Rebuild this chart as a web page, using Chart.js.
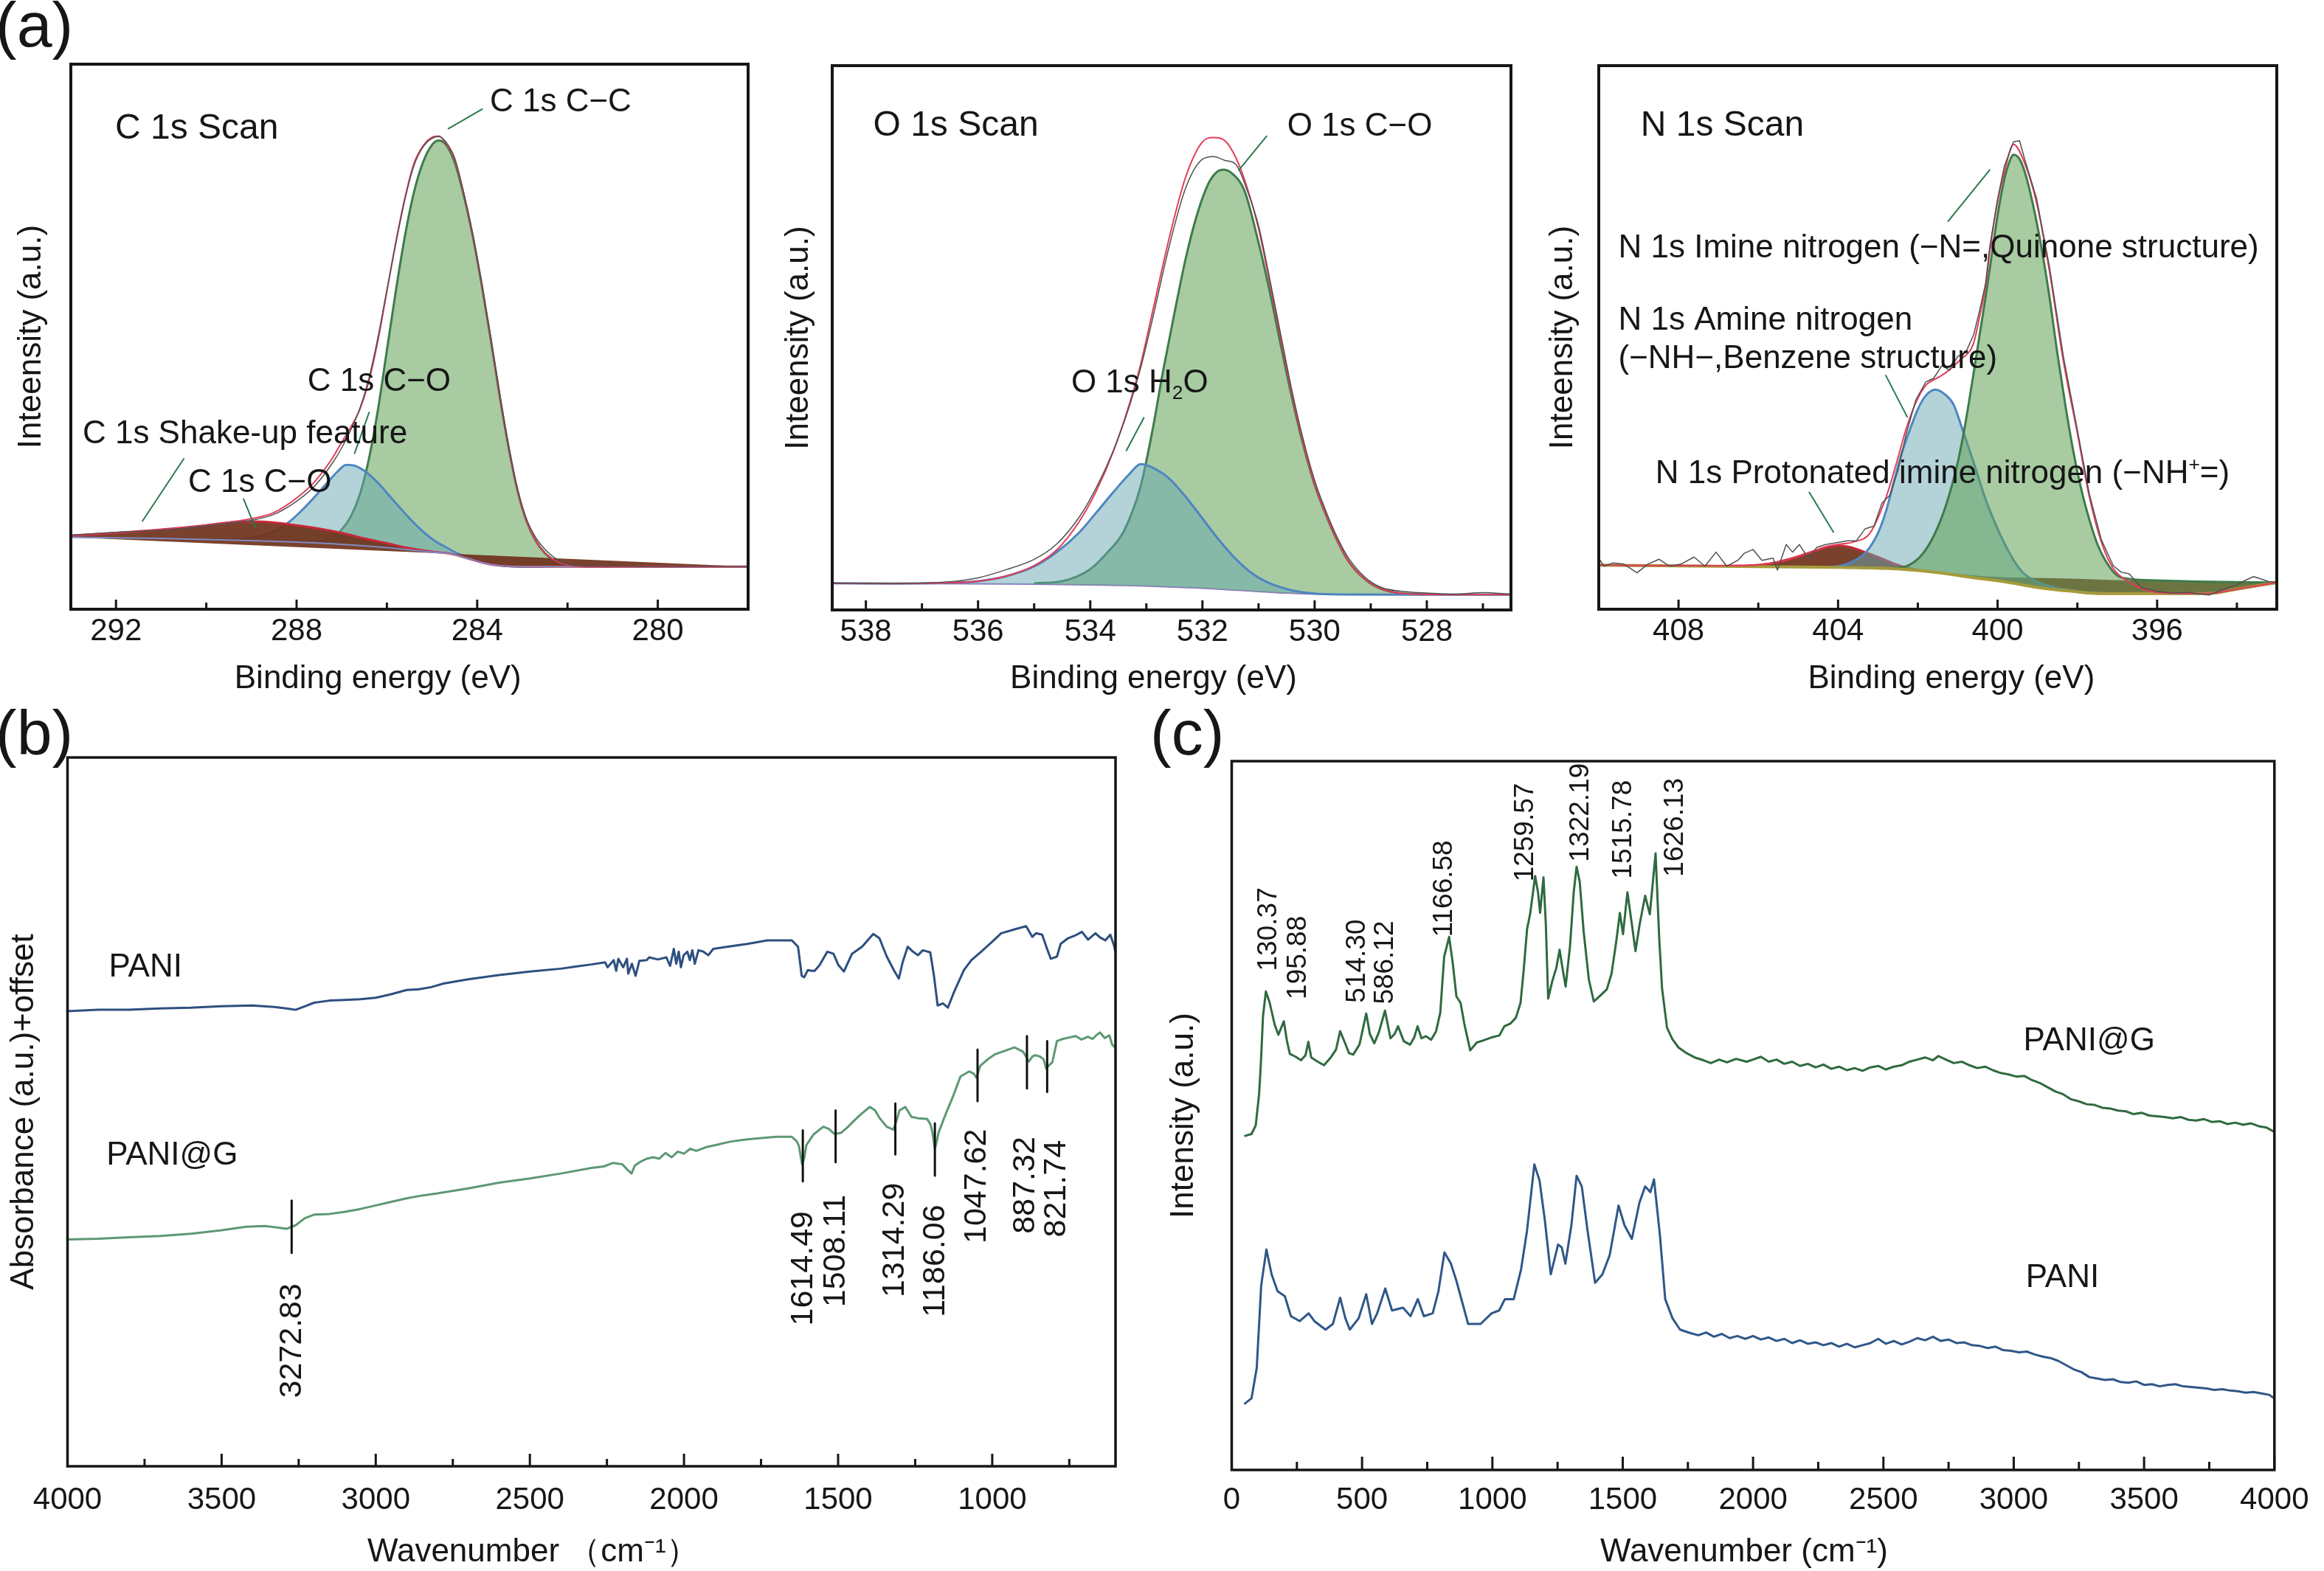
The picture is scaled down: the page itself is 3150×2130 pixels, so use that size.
<!DOCTYPE html>
<html>
<head>
<meta charset="utf-8">
<title>XPS, FTIR and Raman spectra of PANI and PANI@G</title>
<script src="https://cdn.jsdelivr.net/npm/chart.js@4.4.1/dist/chart.umd.min.js"></script>
<style>
  html, body { margin: 0; padding: 0; background: #ffffff; }
  #page { position: relative; width: 3150px; height: 2130px; background: #ffffff; overflow: hidden; }
  #page canvas { position: absolute; }
  .plabel { position: absolute; font-family: 'Liberation Sans', Arial, sans-serif; font-size: 86px; line-height: 1; color: #161616; }
</style>
</head>
<body>
<div id="page">
  <canvas id="a1" width="1050" height="900" style="left:0px;top:60px;width:1050px;height:900px"></canvas>
  <canvas id="a2" width="1030" height="900" style="left:1055px;top:60px;width:1030px;height:900px"></canvas>
  <canvas id="a3" width="1060" height="900" style="left:2090px;top:60px;width:1060px;height:900px"></canvas>
  <canvas id="b" width="1560" height="1130" style="left:0px;top:1000px;width:1560px;height:1130px"></canvas>
  <canvas id="c" width="1585" height="1130" style="left:1565px;top:1000px;width:1585px;height:1130px"></canvas>
  <div class="plabel" style="left:-6px;top:-10px">(a)</div>
  <div class="plabel" style="left:-6px;top:950px">(b)</div>
  <div class="plabel" style="left:1559px;top:950px">(c)</div>
</div>
<script>
const FONT = "'Liberation Sans', Arial, Helvetica, sans-serif";
const INK = '#161616';

/* ================= (a) XPS : C 1s ================= */
const c1sTicks = [292, 290, 288, 286, 284, 282, 280];
const c1sEnergy = [293, 292, 291, 290, 289.5, 289, 288.5, 288, 287.6, 287.2, 287.0, 286.8, 286.6, 286.4, 286.2, 286.0, 285.8, 285.6, 285.4, 285.2, 285.0, 284.85, 284.7, 284.5, 284.3, 284.1, 283.9, 283.7, 283.5, 283.3, 283.1, 282.9, 282.7, 282.5, 282.2, 281.8, 281, 280, 279, 278];
const c1sRaw = [13.6, 14.1, 14.5, 15.3, 15.8, 16.3, 17.4, 19.8, 22.6, 26.9, 29.6, 32.9, 36.8, 42.3, 49.8, 58.6, 67.2, 75.2, 81.4, 84.8, 86.4, 86.7, 85.8, 82.8, 76.5, 68.9, 59.8, 49.9, 39.5, 29.8, 21.9, 16.4, 13.1, 11.0, 9.0, 8.0, 7.9, 7.8, 7.85, 7.8];
const c1sEnvelope = [13.5, 14.0, 14.6, 15.4, 15.95, 16.6, 17.75, 20.4, 23.4, 27.8, 30.65, 33.4, 36.65, 41.8, 49.2, 58.3, 67.45, 75.5, 81.8, 85.0, 86.6, 86.8, 85.6, 82.5, 76.2, 68.5, 59.5, 49.5, 39.0, 29.5, 21.5, 16.0, 12.5, 10.3, 8.6, 7.9, 7.8, 7.8, 7.8, 7.8];
const c1sBgEnergy = [293, 291, 289, 288, 287, 286, 285.5, 285, 284.6, 284.2, 283.8, 283.5, 283, 278];
const c1sBackground = [13.2, 13.0, 12.6, 12.3, 11.9, 11.3, 10.9, 10.5, 10.2, 9.3, 8.4, 8.0, 7.8, 7.8];
const c1sLinEnergy = [293, 278];
const c1sLinear = [13.2, 7.8];
const c1sShakeEnergy = [293, 292, 291, 290, 289.5, 289, 288.5, 288, 287.5, 287, 286.5, 286, 285.5, 285, 284.6, 284.2, 283.8, 283.5, 283, 278];
const c1sShake = [13.5, 14.0, 14.6, 15.4, 15.9, 16.1, 15.9, 15.4, 14.8, 14.0, 13.0, 12.1, 11.2, 10.55, 10.2, 9.3, 8.4, 8.0, 7.8, 7.8];
const c1sCOEnergy = [290, 289.5, 289, 288.5, 288.2, 287.9, 287.6, 287.3, 287.1, 286.9, 286.7, 286.5, 286.2, 285.9, 285.6, 285.3, 285.0, 284.7, 284.4, 284.0, 283.6, 283.2, 282.5];
const c1sCO = [12.8, 12.75, 13.1, 14.3, 15.8, 18.0, 20.6, 23.4, 25.2, 26.5, 26.3, 25.4, 23.2, 20.4, 17.6, 15.0, 12.9, 11.4, 10.1, 8.9, 8.15, 7.85, 7.8];
const c1sCCEnergy = [287.6, 287.2, 287.0, 286.8, 286.6, 286.4, 286.2, 286.0, 285.8, 285.6, 285.4, 285.2, 285.0, 284.85, 284.7, 284.5, 284.3, 284.1, 283.9, 283.7, 283.5, 283.3, 283.1, 282.9, 282.7, 282.5, 282.2, 281.8, 281.0];
const c1sCC = [12.0, 13.2, 14.6, 17.0, 21.0, 27.5, 36.5, 47.5, 58.5, 68.5, 76.5, 82.0, 85.2, 86.0, 85.3, 82.0, 76.0, 68.5, 59.5, 49.5, 39.0, 29.5, 21.5, 16.0, 12.5, 10.3, 8.6, 7.9, 7.8];

/* ================= (a) XPS : O 1s ================= */
const o1sTicks = [538, 537, 536, 535, 534, 533, 532, 531, 530, 529, 528, 527];
const o1sEnergy = [538.6, 537.5, 536.5, 536, 535.5, 535, 534.6, 534.2, 533.9, 533.6, 533.3, 533.1, 532.9, 532.6, 532.3, 532.0, 531.8, 531.6, 531.4, 531.2, 531.0, 530.8, 530.6, 530.4, 530.2, 530.0, 529.8, 529.6, 529.4, 529.1, 528.8, 528.4, 528, 527.5, 527, 526.5];
const o1sRaw = [4.9, 4.9, 5.2, 5.9, 7.4, 9.3, 12.1, 17.0, 22.3, 29.0, 37.5, 44.5, 53.0, 66.5, 77.5, 82.8, 83.3, 82.6, 81.8, 77.0, 70.6, 60.8, 50.4, 40.1, 31.2, 23.8, 18.2, 13.4, 9.6, 6.0, 4.1, 3.4, 3.1, 2.9, 3.2, 2.9];
const o1sEnvelope = [4.9, 4.85, 5.0, 5.3, 6.2, 8.15, 11.0, 16.2, 21.7, 28.8, 37.9, 45.2, 54.3, 68.0, 79.5, 86.0, 86.8, 86.2, 83.0, 77.5, 70.1, 60.1, 49.6, 39.4, 30.5, 23.1, 17.5, 12.8, 9.0, 5.6, 3.8, 3.0, 2.85, 2.8, 2.8, 2.8];
const o1sBgEnergy = [538.6, 535, 534, 533, 532.5, 532, 531.5, 531, 530.5, 530, 529, 526.5];
const o1sBackground = [4.9, 4.75, 4.6, 4.4, 4.2, 4.0, 3.7, 3.4, 3.1, 2.9, 2.8, 2.8];
const o1sH2OEnergy = [538.6, 537.5, 536.5, 536, 535.5, 535, 534.6, 534.2, 533.9, 533.6, 533.3, 533.1, 532.9, 532.6, 532.3, 532.0, 531.7, 531.4, 531.1, 530.8, 530.4, 530.0, 529.5, 528, 526.5];
const o1sH2O = [4.9, 4.85, 5.0, 5.3, 6.2, 8.0, 10.6, 14.2, 17.8, 21.5, 25.0, 26.8, 26.2, 24.2, 20.8, 16.8, 12.8, 9.3, 6.6, 4.9, 3.6, 3.0, 2.85, 2.8, 2.8];
const o1sCOEnergy = [535, 534.5, 534.0, 533.7, 533.4, 533.1, 532.9, 532.7, 532.5, 532.3, 532.1, 531.9, 531.75, 531.62, 531.45, 531.25, 531.0, 530.8, 530.6, 530.4, 530.2, 530.0, 529.8, 529.6, 529.4, 529.1, 528.8, 528.4, 528.0];
const o1sCO = [4.9, 5.3, 7.5, 10.5, 14.5, 22.8, 32.5, 44.0, 54.5, 64.5, 72.5, 78.2, 80.4, 80.9, 80.0, 77.0, 67.5, 58.5, 48.5, 38.8, 30.2, 23.0, 17.5, 12.8, 9.0, 5.6, 3.8, 3.0, 2.85];

/* ================= (a) XPS : N 1s ================= */
const n1sTicks = [408, 406, 404, 402, 400, 398, 396, 394];
const n1sEnergy = [410, 408, 406.5, 406, 405.5, 405, 404.6, 404.3, 404.0, 403.6, 403.2, 402.8, 402.55, 402.3, 402.05, 401.8, 401.5, 401.3, 400.95, 400.6, 400.45, 400.3, 400.2, 400.0, 399.83, 399.6, 399.33, 399.02, 398.7, 398.35, 398.0, 397.7, 397.4, 397.1, 396.7, 396.35, 396, 395, 394.7, 394, 393.5, 393];
const n1sEnvelope = [8.1, 8.0, 8.0, 8.15, 8.7, 9.7, 10.7, 11.5, 11.9, 12.4, 14.0, 20.5, 26.5, 33.0, 38.0, 41.2, 42.6, 43.5, 45.8, 49.0, 53.9, 59.5, 65.6, 75.0, 80.5, 85.5, 82.2, 74.7, 62.2, 45.6, 32.4, 20.7, 12.4, 7.5, 5.0, 3.7, 3.1, 2.9, 2.9, 3.7, 4.3, 4.9];
const n1sRawEnergy = [410.0, 409.87, 409.65, 409.37, 409.04, 408.77, 408.49, 408.22, 407.94, 407.61, 407.34, 407.06, 406.79, 406.51, 406.35, 406.13, 405.91, 405.63, 405.52, 405.3, 405.14, 404.97, 404.75, 404.53, 404.31, 403.98, 403.76, 403.54, 403.32, 403.1, 402.9, 402.7, 402.5, 402.3, 402.05, 401.8, 401.6, 401.4, 401.2, 401.0, 400.8, 400.6, 400.45, 400.3, 400.2, 400.0, 399.83, 399.6, 399.45, 399.33, 399.02, 398.7, 398.35, 398.0, 397.7, 397.4, 397.1, 396.9, 396.7, 396.4, 396.0, 395.6, 395.2, 394.7, 394.4, 394.0, 393.8, 393.58, 393.2, 393.0];
const n1sRaw = [9.4, 7.9, 8.5, 8.3, 6.7, 8.3, 9.2, 7.9, 8.3, 9.6, 7.9, 10.5, 7.9, 9.0, 10.3, 11.0, 9.0, 9.4, 7.2, 11.9, 10.5, 11.9, 9.4, 11.4, 11.9, 12.3, 12.6, 12.6, 14.8, 15.3, 19.5, 21.0, 25.5, 32.0, 38.5, 41.8, 42.5, 44.8, 44.0, 46.5, 47.2, 50.5, 55.0, 60.0, 66.5, 75.5, 81.5, 86.0, 86.2, 83.0, 75.5, 63.0, 46.5, 33.0, 21.2, 12.8, 8.0, 6.8, 6.5, 4.0, 3.3, 3.0, 3.1, 2.6, 3.5, 4.5, 5.3, 6.0, 5.1, 5.0];
const n1sBgEnergy = [410, 404, 403, 402.4, 401.5, 400.5, 399.85, 399, 398, 397.5, 396, 394.7, 394, 393.5, 393];
const n1sBackground = [8.1, 7.7, 7.55, 7.35, 6.75, 5.7, 5.1, 4.0, 3.2, 2.9, 2.9, 2.9, 3.7, 4.3, 4.9];
const n1sUpperBaseEnergy = [410, 406, 402.4, 401, 400.2, 398, 397.2, 393];
const n1sUpperBase = [8.1, 8.0, 7.4, 6.5, 6.0, 5.6, 5.4, 4.9];
const n1sProtEnergy = [410, 407, 406.5, 406, 405.5, 405, 404.6, 404.3, 404.0, 403.7, 403.4, 403.0, 402.6, 402.2, 401.8, 401.5, 400.5, 399.85, 399, 398, 397.5, 396, 394.7, 394, 393.5, 393];
const n1sProt = [8.1, 7.95, 8.0, 8.15, 8.7, 9.7, 10.7, 11.4, 11.7, 11.45, 10.7, 9.6, 8.4, 7.5, 7.0, 6.75, 5.7, 5.1, 4.0, 3.2, 2.9, 2.9, 2.9, 3.7, 4.3, 4.9];
const n1sAmineEnergy = [404.5, 404.0, 403.6, 403.3, 403.0, 402.8, 402.6, 402.4, 402.2, 402.0, 401.8, 401.56, 401.3, 401.1, 400.9, 400.6, 400.3, 400.0, 399.7, 399.4, 399.0, 398.5, 398.0, 397.5, 397.0];
const n1sAmine = [7.7, 7.9, 8.9, 10.5, 14.0, 18.0, 23.5, 28.8, 33.0, 36.8, 39.3, 40.4, 39.4, 37.6, 33.5, 27.0, 20.2, 14.8, 10.3, 7.0, 5.0, 3.9, 3.3, 3.0, 2.9];
const n1sImineEnergy = [403, 402.5, 402.2, 401.9, 401.6, 401.3, 401.0, 400.8, 400.6, 400.45, 400.3, 400.15, 400.0, 399.85, 399.72, 399.6, 399.45, 399.3, 399.1, 398.9, 398.7, 398.5, 398.3, 398.1, 397.9, 397.7, 397.5, 397.3, 397.0, 396.6, 396, 395, 394, 393];
const n1sImine = [7.5, 7.6, 8.2, 10.0, 13.5, 19.0, 27.0, 34.5, 43.5, 50.5, 57.5, 65.0, 72.5, 78.5, 82.0, 83.6, 82.8, 80.0, 74.0, 66.5, 57.5, 47.0, 37.5, 29.0, 22.0, 16.5, 12.0, 9.0, 6.2, 5.5, 5.3, 5.1, 5.0, 4.9];

/* ================= (b) FTIR ================= */
const ftirTicks = [4000, 3750, 3500, 3250, 3000, 2750, 2500, 2250, 2000, 1750, 1500, 1250, 1000, 750];
const ftirPANI = [[4000,64.2],[3900,64.4],[3800,64.4],[3700,64.6],[3600,64.7],[3500,64.9],[3400,65.0],[3330,64.8],[3290,64.6],[3260,64.4],[3230,64.9],[3200,65.4],[3150,65.7],[3100,65.8],[3050,65.9],[3000,66.1],[2950,66.6],[2900,67.2],[2860,67.3],[2820,67.6],[2780,68.1],[2700,68.7],[2600,69.3],[2500,69.8],[2400,70.2],[2352,70.5],[2300,70.8],[2256,71.1],[2248,70.4],[2228,71.4],[2220,69.9],[2213,71.6],[2197,70.4],[2185,71.6],[2181,69.5],[2169,70.9],[2157,69.2],[2145,71.3],[2121,71.4],[2113,71.8],[2085,71.5],[2057,71.8],[2045,70.6],[2033,73.0],[2025,70.9],[2017,72.6],[2010,70.4],[2001,72.1],[1989,72.6],[1981,71.4],[1973,72.8],[1965,70.9],[1953,72.8],[1937,72.6],[1921,72.1],[1905,73.0],[1857,73.3],[1794,73.7],[1730,74.2],[1650,74.2],[1630,73.3],[1618,69.2],[1610,69.0],[1598,70.0],[1586,69.9],[1576,69.9],[1560,70.7],[1535,72.6],[1515,72.3],[1499,70.7],[1481,69.8],[1455,72.3],[1422,73.3],[1386,75.1],[1366,74.5],[1342,71.9],[1318,69.9],[1303,68.8],[1290,71.2],[1274,73.3],[1257,72.6],[1241,72.1],[1225,72.8],[1201,72.5],[1189,69.2],[1177,65.0],[1160,65.3],[1144,64.7],[1124,66.9],[1092,70.0],[1068,71.4],[1036,72.6],[995,74.2],[971,75.2],[923,75.8],[890,76.2],[870,74.7],[858,75.2],[838,75.0],[822,73.0],[810,71.6],[790,71.9],[778,73.7],[754,74.5],[730,74.9],[709,75.4],[689,74.3],[665,75.2],[650,74.6],[633,74.2],[617,75.0],[605,73.5],[600,72.5]];
const ftirPANIG = [[4000,32.0],[3900,32.1],[3800,32.3],[3700,32.5],[3600,32.8],[3500,33.3],[3420,33.8],[3360,33.9],[3320,33.7],[3290,33.5],[3260,34.0],[3230,35.0],[3200,35.5],[3150,35.6],[3100,35.9],[3050,36.3],[3000,36.8],[2950,37.3],[2900,37.8],[2850,38.2],[2800,38.5],[2700,39.2],[2600,40.0],[2500,40.6],[2400,41.3],[2300,42.1],[2260,42.3],[2230,42.8],[2200,42.6],[2185,41.9],[2170,41.3],[2160,42.4],[2140,43.0],[2120,43.4],[2100,43.6],[2080,43.4],[2060,44.2],[2040,43.6],[2020,44.4],[2000,44.1],[1980,44.8],[1960,44.5],[1930,45.0],[1900,45.3],[1850,45.8],[1800,46.1],[1750,46.3],[1700,46.5],[1651,46.5],[1635,45.9],[1627,45.2],[1617,42.6],[1610,43.5],[1603,45.3],[1580,46.8],[1548,47.9],[1530,47.6],[1512,46.9],[1492,47.0],[1470,47.8],[1452,48.6],[1425,49.7],[1397,50.7],[1380,50.2],[1365,49.1],[1342,47.9],[1321,47.5],[1310,48.8],[1301,50.2],[1282,50.7],[1262,49.3],[1240,49.1],[1211,49.0],[1200,48.2],[1194,47.1],[1186,44.8],[1180,45.8],[1174,47.1],[1150,49.8],[1127,52.2],[1103,55.0],[1075,55.7],[1060,55.4],[1051,54.8],[1039,56.5],[1015,57.4],[992,58.1],[960,58.6],[928,59.1],[900,58.5],[881,57.1],[870,57.8],[861,58.0],[845,57.8],[833,57.4],[825,56.1],[815,56.6],[805,57.0],[790,60.0],[770,60.3],[750,60.5],[730,60.7],[710,60.2],[690,60.6],[674,60.3],[660,60.9],[650,61.2],[635,60.4],[620,60.8],[611,59.5],[600,59.0]];
const ftirPeakLabels = ['3272.83', '1614.49', '1508.11', '1314.29', '1186.06', '1047.62', '887.32', '821.74'];
const ftirPeakWave = [3272.83, 1614.49, 1508.11, 1314.29, 1186.06, 1047.62, 887.32, 821.74];

/* ================= (c) Raman ================= */
const ramanTicks = [0, 250, 500, 750, 1000, 1250, 1500, 1750, 2000, 2250, 2500, 2750, 3000, 3250, 3500, 3750, 4000];
const ramanPANIG = [[48,47.1],[76,47.4],[92,48.6],[105,53.0],[112,57.5],[120,64.0],[131,67.5],[145,66.0],[165,62.8],[179,61.4],[200,63.3],[212,60.5],[223,58.7],[245,58.3],[266,57.8],[283,58.5],[294,60.4],[305,58.2],[330,57.6],[354,57.1],[380,58.2],[400,59.3],[416,61.9],[435,60.2],[450,58.8],[466,58.6],[490,60.0],[516,64.4],[530,61.5],[547,60.2],[565,61.8],[588,64.8],[609,60.9],[625,61.5],[638,62.6],[660,60.5],[684,60.0],[700,61.0],[713,62.6],[728,60.9],[745,61.2],[765,60.7],[784,61.9],[800,64.5],[815,72.4],[834,75.2],[848,71.5],[862,66.8],[878,65.9],[892,63.0],[915,59.2],[940,60.3],[965,60.6],[995,61.0],[1027,61.3],[1046,62.6],[1070,63.0],[1090,63.8],[1108,65.9],[1120,70.5],[1133,76.3],[1145,78.5],[1164,83.8],[1175,81.5],[1183,78.6],[1196,83.6],[1205,77.0],[1214,66.5],[1230,69.0],[1245,70.8],[1258,73.4],[1268,71.0],[1281,68.2],[1298,74.0],[1312,81.5],[1323,85.1],[1335,83.0],[1350,76.0],[1370,69.2],[1389,66.1],[1410,66.8],[1439,67.8],[1457,70.0],[1475,74.5],[1489,78.6],[1501,75.6],[1518,81.5],[1535,77.0],[1549,73.2],[1565,77.0],[1586,81.0],[1604,78.4],[1626,87.0],[1640,75.0],[1651,67.9],[1670,62.4],[1690,60.8],[1714,59.6],[1745,58.8],[1776,58.2],[1810,57.8],[1838,57.4],[1870,57.9],[1900,57.5],[1935,58.0],[1975,57.6],[2000,57.9],[2030,58.3],[2060,57.6],[2090,57.9],[2120,57.3],[2150,57.6],[2180,57.0],[2210,57.3],[2240,56.8],[2270,57.2],[2300,56.6],[2330,56.9],[2360,56.4],[2390,56.7],[2420,56.3],[2450,56.8],[2480,57.0],[2510,56.5],[2540,56.9],[2570,57.1],[2600,57.6],[2630,57.9],[2660,58.2],[2690,57.8],[2711,58.4],[2740,57.9],[2770,57.4],[2800,57.6],[2830,57.1],[2860,56.7],[2890,56.9],[2920,56.4],[2950,56.0],[2980,55.8],[3010,55.5],[3040,55.6],[3070,55.0],[3100,54.6],[3130,54.0],[3160,53.4],[3190,53.0],[3220,52.3],[3250,52.0],[3280,51.6],[3310,51.5],[3340,51.1],[3370,51.0],[3400,50.7],[3430,50.6],[3460,50.2],[3490,50.4],[3520,50.0],[3550,49.9],[3580,49.8],[3610,49.6],[3640,49.8],[3670,49.4],[3700,49.3],[3730,49.5],[3760,49.1],[3790,49.2],[3820,48.8],[3850,49.0],[3880,48.7],[3910,48.9],[3940,48.5],[3970,48.3],[4000,47.7]];
const ramanPANI = [[48,9.3],[76,10.1],[96,14.4],[113,26.0],[133,31.1],[153,27.6],[176,25.2],[204,24.5],[227,21.7],[261,21.0],[295,22.1],[317,21.0],[360,19.8],[388,20.6],[416,24.3],[436,21.4],[453,19.8],[487,21.4],[516,24.8],[538,20.6],[558,22.1],[589,25.6],[615,22.5],[657,22.9],[686,21.7],[714,24.1],[737,21.7],[771,22.1],[793,25.2],[816,30.7],[841,29.1],[861,26.8],[884,23.7],[907,20.6],[955,20.6],[997,22.1],[1026,22.5],[1048,24.1],[1082,24.1],[1110,28.3],[1133,33.8],[1161,43.1],[1181,40.8],[1201,35.3],[1224,27.6],[1252,31.8],[1266,31.4],[1280,29.1],[1303,34.5],[1323,41.5],[1343,40.0],[1365,33.8],[1394,26.4],[1422,27.6],[1450,30.3],[1484,37.3],[1507,34.5],[1535,32.6],[1564,37.7],[1586,40.0],[1606,39.2],[1620,41.0],[1643,33.0],[1663,24.1],[1691,21.4],[1720,19.8],[1760,19.3],[1790,19.0],[1820,19.4],[1850,18.8],[1880,19.2],[1910,18.6],[1940,18.9],[1970,18.5],[2000,18.9],[2030,18.4],[2060,18.7],[2090,18.2],[2120,18.5],[2150,17.9],[2180,18.3],[2210,17.8],[2240,18.0],[2270,17.6],[2300,17.9],[2330,17.4],[2360,17.8],[2390,17.3],[2420,17.6],[2450,17.9],[2480,18.5],[2510,17.8],[2540,18.2],[2570,17.7],[2600,18.1],[2630,18.6],[2660,18.3],[2690,18.8],[2720,18.2],[2750,18.4],[2780,17.9],[2810,18.0],[2840,17.6],[2870,17.5],[2900,17.2],[2930,17.4],[2960,16.9],[2990,16.8],[3020,16.6],[3050,16.7],[3080,16.3],[3110,16.0],[3140,15.8],[3170,15.4],[3200,14.8],[3230,14.2],[3260,13.8],[3290,13.1],[3320,12.9],[3350,12.7],[3380,12.8],[3410,12.4],[3440,12.3],[3470,12.5],[3500,12.0],[3530,12.1],[3560,11.8],[3590,12.0],[3620,12.1],[3650,11.8],[3680,11.7],[3710,11.6],[3740,11.5],[3770,11.3],[3800,11.4],[3830,11.2],[3860,11.1],[3890,10.9],[3920,11.0],[3950,10.8],[3980,10.6],[4000,10.1]];
const ramanPeakLabels = ['130.37', '195.88', '514.30', '586.12', '1166.58', '1259.57', '1322.19', '1515.78', '1626.13'];

/* ================= annotation placement (data coordinates) ================= */
const c1sNotes = [
  {t: 'C 1s Scan', x: 292.02, y: 86.4, size: 48},
  {t: 'C 1s C\u2212C', x: 283.72, y: 91.4},
  {t: 'C 1s C\u2212O', x: 287.76, y: 40.1},
  {t: 'C 1s Shake-up feature', x: 292.74, y: 30.5},
  {t: 'C 1s C\u2212O', x: 290.4, y: 21.5}
];
const c1sLeaders = [[284.65, 88.1, 283.88, 91.8], [286.39, 36.2, 286.72, 28.5], [290.49, 27.7, 291.42, 16.1], [289.18, 20.3, 288.91, 14.9]];
const o1sNotes = [
  {t: 'O 1s Scan', x: 537.87, y: 87.1, size: 48},
  {t: 'O 1s C\u2212O', x: 530.49, y: 87.1},
  {segs: [{t: 'O 1s H'}, {t: '2', sub: true}, {t: 'O'}], x: 534.34, y: 40.0}
];
const o1sLeaders = [[530.85, 87.1, 531.36, 80.7], [533.04, 35.4, 533.36, 29.2]];
const n1sNotes = [
  {t: 'N 1s Scan', x: 408.95, y: 87.1, size: 48},
  {t: 'N 1s Imine nitrogen (\u2212N=,Quinone structure)', x: 409.51, y: 64.7},
  {t: 'N 1s Amine nitrogen', x: 409.51, y: 51.4},
  {t: '(\u2212NH\u2212,Benzene structure)', x: 409.51, y: 44.4},
  {segs: [{t: 'N 1s Protonated imine nitrogen (\u2212NH'}, {t: '+', sup: true}, {t: '=)'}], x: 408.58, y: 23.2}
];
const n1sLeaders = [[400.19, 80.9, 401.25, 71.3], [402.81, 43.1, 402.26, 35.3], [404.73, 21.6, 404.11, 14.1]];
const ftirMarkerSpan = [[37.5, 30.1], [47.4, 40.2], [50.2, 42.9], [51.2, 44.0], [48.4, 41.0], [58.8, 51.5], [60.7, 53.3], [60.0, 52.8]];
const ftirLabelAt = [[3271, 25.8], [1611.3, 36.0], [1506.4, 38.3], [1315.6, 40.0], [1184.7, 36.9], [1050, 47.6], [891, 46.5], [792, 46.0]];
const ramanLabelAt = [[142.8, 70.4], [255, 66.4], [480.9, 65.9], [590.7, 65.7], [815.4, 75.2], [1128.3, 83.0], [1340.4, 85.8], [1502.5, 83.4], [1700.9, 83.7]];

/* ================= helpers ================= */
function series(xs, ys, o) {
  return Object.assign({
    data: xs.map((x, i) => ({x: x, y: ys[i]})),
    pointRadius: 0, borderWidth: 2, fill: false, tension: 0, spanGaps: false
  }, o);
}
function smooth(xs, ys, o) { return series(xs, ys, Object.assign({cubicInterpolationMode: 'monotone'}, o)); }
function fromPairs(arr, o) { return series(arr.map(d => d[0]), arr.map(d => d[1]), o); }
function segments(segs, color, width) {
  const xs = [], ys = [];
  segs.forEach(s => { xs.push(s[0], s[2], s[2]); ys.push(s[1], s[3], null); });
  return series(xs, ys, {borderColor: color, borderWidth: width, order: 0, borderCapStyle: 'butt'});
}
function drawRich(ctx, segs, x, y, size) {
  let px = x;
  segs.forEach(s => {
    const small = s.sub || s.sup;
    const fs = small ? size * 0.6 : size;
    ctx.font = fs + 'px ' + FONT;
    const dy = s.sub ? size * 0.2 : (s.sup ? -size * 0.38 : 0);
    ctx.fillText(s.t, px, y + dy);
    px += ctx.measureText(s.t).width;
  });
}

function makePanel(p) {
  const [cx, cy, cw, ch] = p.canvas;
  const [L, T, R, B] = p.area;
  const TFS = 44;
  const xMid = p.xTitleBase - 0.3465 * TFS;
  const yMid = p.yTitleBase - 0.3465 * TFS;
  const decor = {
    id: 'decor',
    afterDatasetsDraw(chart) {
      const ctx = chart.ctx, a = chart.chartArea, xs = chart.scales.x, ys = chart.scales.y;
      ctx.save();
      ctx.strokeStyle = INK;
      ctx.lineWidth = p.tickWidth;
      p.ticks.forEach(v => {
        const px = xs.getPixelForValue(v);
        const len = p.major(v) ? p.majorLen : p.minorLen;
        ctx.beginPath(); ctx.moveTo(px, a.bottom); ctx.lineTo(px, a.bottom - len); ctx.stroke();
      });
      ctx.lineWidth = p.frame;
      ctx.strokeRect(a.left, a.top, a.right - a.left, a.bottom - a.top);
      ctx.fillStyle = INK;
      (p.notes || []).forEach(n => {
        const px = xs.getPixelForValue(n.x), py = ys.getPixelForValue(n.y);
        const size = n.size || 44;
        if (n.rot) {
          ctx.save(); ctx.translate(px, py); ctx.rotate(-Math.PI / 2);
          ctx.font = size + 'px ' + FONT;
          ctx.textAlign = n.rot === 'start' ? 'left' : 'right';
          ctx.textBaseline = 'middle';
          ctx.fillText(n.t, 0, 0);
          ctx.restore();
        } else {
          ctx.textAlign = 'left'; ctx.textBaseline = 'alphabetic';
          drawRich(ctx, n.segs || [{t: n.t}], px, py, size);
        }
      });
      ctx.restore();
    }
  };
  return new Chart(document.getElementById(p.id), {
    type: 'line',
    data: {datasets: p.datasets},
    options: {
      responsive: false, maintainAspectRatio: false, animation: false, devicePixelRatio: 1,
      events: [],
      layout: {padding: {left: 0, top: T - cy, right: cx + cw - R, bottom: 0}},
      elements: {point: {radius: 0}, line: {borderJoinStyle: 'round'}},
      plugins: {legend: {display: false}, tooltip: {enabled: false}, title: {display: false}},
      scales: {
        x: {
          type: 'linear', position: 'bottom', min: p.xmin, max: p.xmax, reverse: !!p.reverse,
          afterBuildTicks: s => { s.ticks = p.ticks.map(v => ({value: v})); },
          afterFit: s => { s.height = cy + ch - B; },
          grid: {display: false, drawTicks: false}, border: {display: false},
          ticks: {autoSkip: false, maxRotation: 0, minRotation: 0, padding: p.labelPad, color: INK,
                  font: {family: FONT, size: 42, lineHeight: 1},
                  callback: v => (p.major(v) ? String(v) : '')},
          title: {display: true, text: p.xTitle, color: INK, font: {family: FONT, size: TFS, lineHeight: 1},
                  padding: {top: 0, bottom: (cy + ch) - xMid - TFS / 2}}
        },
        y: {
          type: 'linear', position: 'left', min: 0, max: 100,
          afterFit: s => { s.width = L - cx; },
          grid: {display: false, drawTicks: false}, border: {display: false},
          ticks: {display: false},
          title: {display: true, text: p.yTitle, color: INK, font: {family: FONT, size: TFS, lineHeight: 1},
                  padding: {top: yMid - cx - TFS / 2, bottom: 0}}
        }
      }
    },
    plugins: [decor]
  });
}

const GREEN_FILL = 'rgba(96,160,86,0.55)';
const BLUE_FILL = 'rgba(104,168,178,0.5)';
const BROWN_FILL = 'rgba(112,52,28,0.93)';

/* ---------- (a) C 1s ---------- */
makePanel({
  id: 'a1', canvas: [0, 60, 1050, 900], area: [96, 87, 1014, 826], xmin: 278, xmax: 293, reverse: true,
  ticks: c1sTicks, major: v => v % 4 === 0, majorLen: 13, minorLen: 9, tickWidth: 3, frame: 4, labelPad: 9.5,
  xTitle: 'Binding energy (eV)       ', xTitleBase: 936, yTitle: 'Inteensity (a.u.)', yTitleBase: 58.3,
  notes: c1sNotes,
  datasets: [
    series(c1sLinEnergy, c1sLinear, {borderColor: 'rgba(0,0,0,0)', borderWidth: 0, order: 12}),
    smooth(c1sBgEnergy, c1sBackground, {borderColor: '#7f8cc6', borderWidth: 2, order: 5}),
    smooth(c1sCCEnergy, c1sCC, {borderColor: '#3f7b4c', borderWidth: 3, order: 10, fill: {target: 1}, backgroundColor: GREEN_FILL}),
    smooth(c1sCOEnergy, c1sCO, {borderColor: '#4e86c0', borderWidth: 3, order: 9, fill: {target: 1}, backgroundColor: BLUE_FILL}),
    smooth(c1sShakeEnergy, c1sShake, {borderColor: '#c8283a', borderWidth: 3, order: 8, fill: {target: 0}, backgroundColor: BROWN_FILL}),
    smooth(c1sEnergy, c1sRaw, {borderColor: '#505050', borderWidth: 1.5, order: 2}),
    smooth(c1sEnergy, c1sEnvelope, {borderColor: '#e23c58', borderWidth: 2, order: 3}),
    segments(c1sLeaders, '#2b7a4d', 2)
  ]
});

/* ---------- (a) O 1s ---------- */
makePanel({
  id: 'a2', canvas: [1055, 60, 1030, 900], area: [1128, 89, 2048, 827], xmin: 526.5, xmax: 538.6, reverse: true,
  ticks: o1sTicks, major: v => v % 2 === 0, majorLen: 13, minorLen: 9, tickWidth: 3, frame: 4, labelPad: 9.5,
  xTitle: 'Binding energy (eV)    ', xTitleBase: 936, yTitle: 'Inteensity (a.u.)', yTitleBase: 1098.2,
  notes: o1sNotes,
  datasets: [
    smooth(o1sBgEnergy, o1sBackground, {borderColor: '#9575c4', borderWidth: 2, order: 12}),
    smooth(o1sCOEnergy, o1sCO, {borderColor: '#3f7b4c', borderWidth: 3, order: 10, fill: {target: 0}, backgroundColor: GREEN_FILL}),
    smooth(o1sH2OEnergy, o1sH2O, {borderColor: '#4e86c0', borderWidth: 3, order: 9, fill: {target: 0}, backgroundColor: BLUE_FILL}),
    smooth(o1sEnergy, o1sRaw, {borderColor: '#505050', borderWidth: 1.5, order: 2}),
    smooth(o1sEnergy, o1sEnvelope, {borderColor: '#e23c58', borderWidth: 2, order: 3}),
    segments(o1sLeaders, '#2b7a4d', 2)
  ]
});

/* ---------- (a) N 1s ---------- */
makePanel({
  id: 'a3', canvas: [2090, 60, 1060, 900], area: [2167, 89, 3086, 826], xmin: 393, xmax: 410, reverse: true,
  ticks: n1sTicks, major: v => v % 4 === 0, majorLen: 13, minorLen: 9, tickWidth: 3, frame: 4, labelPad: 9.5,
  xTitle: '   Binding energy (eV)', xTitleBase: 936, yTitle: 'Inteensity (a.u.)', yTitleBase: 2134.5,
  notes: n1sNotes,
  datasets: [
    smooth(n1sUpperBaseEnergy, n1sUpperBase, {borderColor: 'rgba(0,0,0,0)', borderWidth: 0, order: 12}),
    smooth(n1sBgEnergy, n1sBackground, {borderColor: '#a69b3a', borderWidth: 4, order: 6}),
    smooth(n1sProtEnergy, n1sProt, {borderColor: '#c8283a', borderWidth: 3, order: 11, fill: {target: 0}, backgroundColor: BROWN_FILL}),
    smooth(n1sAmineEnergy, n1sAmine, {borderColor: '#4e86c0', borderWidth: 3, order: 10, fill: {target: 1}, backgroundColor: BLUE_FILL}),
    smooth(n1sImineEnergy, n1sImine, {borderColor: '#3f7b4c', borderWidth: 3, order: 9, fill: {target: 1}, backgroundColor: GREEN_FILL}),
    series(n1sRawEnergy, n1sRaw, {borderColor: '#505050', borderWidth: 1.5, order: 2}),
    smooth(n1sEnergy, n1sEnvelope, {borderColor: '#e23c58', borderWidth: 2, order: 3}),
    segments(n1sLeaders, '#2b7a4d', 2)
  ]
});

/* ---------- (b) FTIR ---------- */
const ftirNotes = [
  {t: 'PANI', x: 3866, y: 69.1},
  {t: 'PANI@G', x: 3874, y: 42.6}
].concat(ftirPeakLabels.map((t, i) => ({t: t, x: ftirLabelAt[i][0], y: ftirLabelAt[i][1], rot: 'end', size: 43})));
makePanel({
  id: 'b', canvas: [0, 1000, 1560, 1130], area: [91.5, 1027, 1512, 1988], xmin: 600, xmax: 4000, reverse: true,
  ticks: ftirTicks, major: v => v % 500 === 0, majorLen: 17, minorLen: 10, tickWidth: 3, frame: 3.5, labelPad: 25.5,
  xTitle: 'Wavenumber \uFF08cm\u207B\u00B9\uFF09             ', xTitleBase: 2120, yTitle: 'Absorbance (a.u.)+offset', yTitleBase: 48,
  notes: ftirNotes,
  datasets: [
    fromPairs(ftirPANI, {borderColor: '#2d4f80', borderWidth: 3, order: 3}),
    fromPairs(ftirPANIG, {borderColor: '#5d9873', borderWidth: 3, order: 2}),
    segments(ftirPeakWave.map((w, i) => [w, ftirMarkerSpan[i][0], w, ftirMarkerSpan[i][1]]), '#111111', 3)
  ]
});

/* ---------- (c) Raman ---------- */
const ramanNotes = [
  {t: 'PANI@G', x: 3037, y: 59.2},
  {t: 'PANI', x: 3046, y: 25.8}
].concat(ramanPeakLabels.map((t, i) => ({t: t, x: ramanLabelAt[i][0], y: ramanLabelAt[i][1], rot: 'start', size: 37})));
makePanel({
  id: 'c', canvas: [1565, 1000, 1585, 1130], area: [1669.5, 1032, 3101, 1993], xmin: 0, xmax: 4000, reverse: false,
  ticks: ramanTicks, major: v => v % 500 === 0, majorLen: 18, minorLen: 11, tickWidth: 3, frame: 3.5, labelPad: 20.5,
  xTitle: 'Wavenumber (cm\u207B\u00B9)  ', xTitleBase: 2120, yTitle: 'Intensity (a.u.)', yTitleBase: 1620,
  notes: ramanNotes,
  datasets: [
    fromPairs(ramanPANIG, {borderColor: '#2f6a40', borderWidth: 3, order: 2}),
    fromPairs(ramanPANI, {borderColor: '#2f5788', borderWidth: 3, order: 3})
  ]
});
</script>
</body>
</html>
